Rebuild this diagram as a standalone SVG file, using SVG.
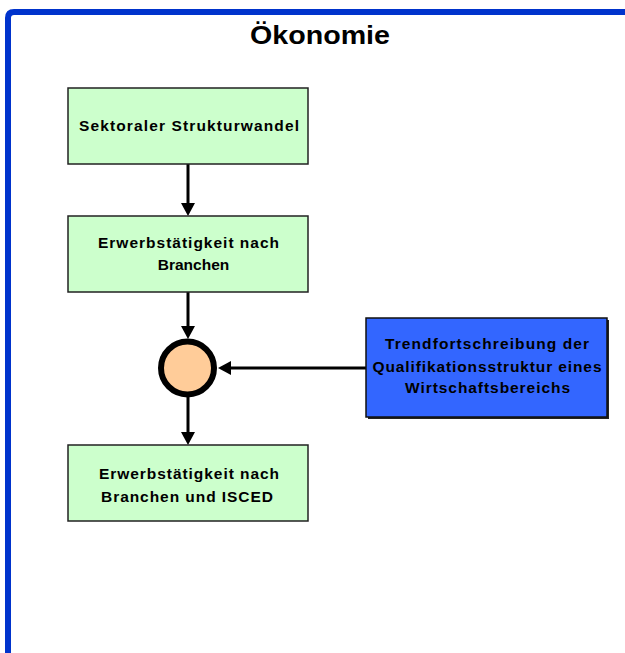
<svg xmlns="http://www.w3.org/2000/svg" width="625" height="653" viewBox="0 0 625 653">
<style>
  .t { font-family: "Liberation Sans", Arial, sans-serif; font-weight: bold; fill: #000; text-anchor: middle; }
  .box { font-size: 15.5px; }
  .green { fill: #CCFFCC; stroke: #222; stroke-width: 1.5; }
  .blue { fill: #3366FF; stroke: #111; stroke-width: 1.5; }
  .conn { stroke: #000; stroke-width: 3; fill: none; }
</style>
<defs>
  <marker id="ah" markerUnits="userSpaceOnUse" markerWidth="13" markerHeight="14" viewBox="0 0 13 14" refX="1" refY="7" orient="auto">
    <path d="M0,0 L13,7 L0,14 z" fill="#000"/>
  </marker>
</defs>
<rect width="625" height="653" fill="#fff"/>
<path d="M8,653 L8,18 Q8,12 14,12 L625,12" fill="none" stroke="#0033CC" stroke-width="6"/>
<text class="t" x="320" y="43.5" font-size="25" textLength="140" lengthAdjust="spacingAndGlyphs">Ökonomie</text>

<g id="connectors">
  <line class="conn" x1="188" y1="164" x2="188" y2="204" marker-end="url(#ah)"/>
  <line class="conn" x1="188" y1="292" x2="188" y2="327" marker-end="url(#ah)"/>
  <line class="conn" x1="366" y1="368" x2="230" y2="368" marker-end="url(#ah)"/>
  <line class="conn" x1="188" y1="397" x2="188" y2="433" marker-end="url(#ah)"/>
</g>

<g id="n1">
  <rect class="green" x="68" y="88" width="240" height="76"/>
  <text class="t box" x="189" y="131" textLength="220" lengthAdjust="spacing">Sektoraler Strukturwandel</text>
</g>
<g id="n2">
  <rect class="green" x="68" y="216" width="240" height="76"/>
  <text class="t box" x="188.5" y="248" textLength="181" lengthAdjust="spacing">Erwerbstätigkeit nach</text>
  <text class="t box" x="193.5" y="270">Branchen</text>
</g>
<g id="n3">
  <circle cx="187.5" cy="368" r="26.5" fill="#FFCC99" stroke="#000" stroke-width="6"/>
</g>
<g id="n4">
  <rect x="368" y="320" width="241" height="99" fill="#222"/>
  <rect class="blue" x="366" y="318" width="241" height="99"/>
  <text class="t box" x="487" y="349" textLength="204" lengthAdjust="spacing">Trendfortschreibung der</text>
  <text class="t box" x="487" y="371.5" textLength="229" lengthAdjust="spacing">Qualifikationsstruktur eines</text>
  <text class="t box" x="487.5" y="392.5" textLength="165" lengthAdjust="spacing">Wirtschaftsbereichs</text>
</g>
<g id="n5">
  <rect class="green" x="68" y="445" width="240" height="76"/>
  <text class="t box" x="189" y="479" textLength="180" lengthAdjust="spacing">Erwerbstätigkeit nach</text>
  <text class="t box" x="187" y="501.5" textLength="172" lengthAdjust="spacing">Branchen und ISCED</text>
</g>
</svg>
